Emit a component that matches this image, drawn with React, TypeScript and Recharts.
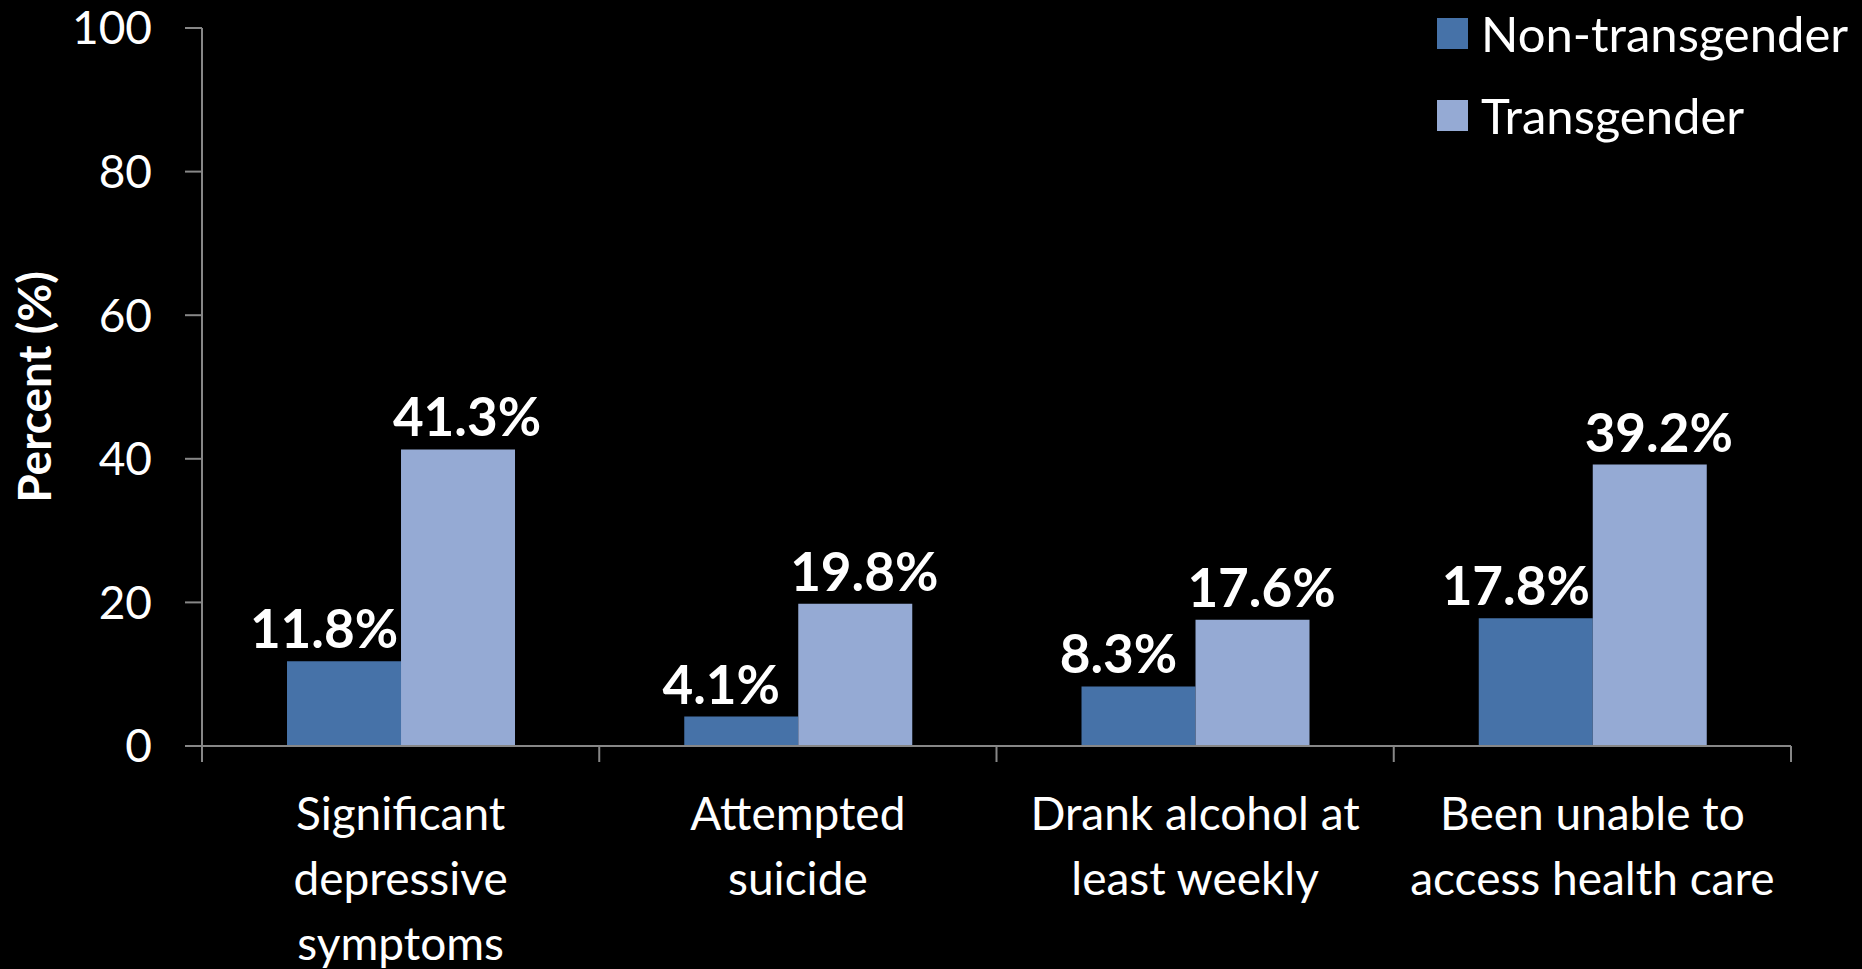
import React from "react";
import {
  BarChart,
  Bar,
  XAxis,
  YAxis,
  Legend,
  LabelList,
} from "recharts";

const categories = [
  ["Significant", "depressive", "symptoms"],
  ["Attempted", "suicide"],
  ["Drank alcohol at", "least weekly"],
  ["Been unable to", "access health care"],
];
const nonTransgender = [11.8, 4.1, 8.3, 17.8];
const transgender = [41.3, 19.8, 17.6, 39.2];
const yTicks = [0, 20, 40, 60, 80, 100];

const data = categories.map((lines, i) => ({
  name: lines.join(" "),
  lines,
  non: nonTransgender[i],
  trans: transgender[i],
}));

const W = 1862;
const H = 969;
const LEFT = 202;
const RIGHT = 71;
const FONT = "Lato, 'Open Sans', sans-serif";
const AXIS = "#878787";
const DARK = "#4672A8";
const LIGHT = "#95AAD4";
const BAND = (W - LEFT - RIGHT) / categories.length;

// category ticks sit between the groups, so draw them from the label tick
const CategoryTick = (props: any) => {
  const { x, y, index, payload } = props;
  const half = BAND / 2;
  const lines: string[] = data[index] ? data[index].lines : [payload.value];
  return (
    <g>
      <line x1={x - half} x2={x - half} y1={y} y2={y + 16} stroke={AXIS} strokeWidth={2} />
      {index === categories.length - 1 && (
        <line x1={x + half} x2={x + half} y1={y} y2={y + 16} stroke={AXIS} strokeWidth={2} />
      )}
      <text x={x} y={y + 84} textAnchor="middle" fill="#fff" fontSize={46} fontFamily={FONT}>
        {lines.map((l, i) => (
          <tspan key={i} x={x} dy={i === 0 ? 0 : 65}>
            {l}
          </tspan>
        ))}
      </text>
    </g>
  );
};

const makeLabel = (dx: number) => (props: any) => {
  const { x, y, width, value } = props;
  return (
    <text
      x={x + width / 2 + dx}
      y={y - 13}
      textAnchor="middle"
      fill="#fff"
      fontSize={53}
      fontWeight="bold"
      fontFamily={FONT}
    >
      {value}%
    </text>
  );
};

const YTitle = (props: any) => {
  const { viewBox } = props;
  const cx = viewBox.x + 33;
  const cy = viewBox.y + viewBox.height / 2;
  return (
    <text
      x={cx}
      y={cy}
      transform={`rotate(-90, ${cx}, ${cy})`}
      textAnchor="middle"
      dominantBaseline="central"
      fill="#fff"
      fontSize={46}
      fontWeight="bold"
      fontFamily={FONT}
    >
      Percent (%)
    </text>
  );
};

const LegendBox = (props: any) => {
  const { payload } = props;
  return (
    <div style={{ fontFamily: FONT }}>
      {(payload || []).map((entry: any) => (
        <div
          key={entry.value}
          style={{ display: "flex", alignItems: "center", height: 82, whiteSpace: "nowrap" }}
        >
          <span
            style={{ display: "inline-block", width: 31, height: 31, background: entry.color, marginRight: 13 }}
          />
          <span style={{ color: "#fff", fontSize: 49 }}>{entry.value}</span>
        </div>
      ))}
    </div>
  );
};

export default function App() {
  return (
    <div style={{ position: "absolute", left: 0, top: 0, width: W, height: H, background: "#000" }}>
      <BarChart
        width={W}
        height={H}
        data={data}
        margin={{ top: 28, right: RIGHT, left: 0, bottom: 0 }}
        barCategoryGap="21.4%"
        barGap={0}
      >
        <XAxis
          dataKey="name"
          height={223}
          axisLine={{ stroke: AXIS, strokeWidth: 2 }}
          tickLine={false}
          tickSize={0}
          tickMargin={0}
          tick={<CategoryTick />}
          interval={0}
        />
        <YAxis
          width={LEFT}
          domain={[0, 100]}
          ticks={yTicks}
          interval={0}
          axisLine={{ stroke: AXIS, strokeWidth: 2 }}
          tickLine={{ stroke: AXIS, strokeWidth: 2 }}
          tickSize={17}
          tickMargin={33}
          tick={{ fill: "#fff", fontSize: 46, fontFamily: FONT }}
          label={<YTitle />}
        />
        <Legend
          layout="vertical"
          align="center"
          verticalAlign="middle"
          content={<LegendBox />}
          wrapperStyle={{ position: "absolute", left: 1437, top: -8, width: "auto", height: "auto" }}
        />
        <Bar dataKey="non" name="Non-transgender" fill={DARK} isAnimationActive={false}>
          <LabelList dataKey="non" content={makeLabel(-20)} />
        </Bar>
        <Bar dataKey="trans" name="Transgender" fill={LIGHT} isAnimationActive={false}>
          <LabelList dataKey="trans" content={makeLabel(9)} />
        </Bar>
      </BarChart>
    </div>
  );
}
